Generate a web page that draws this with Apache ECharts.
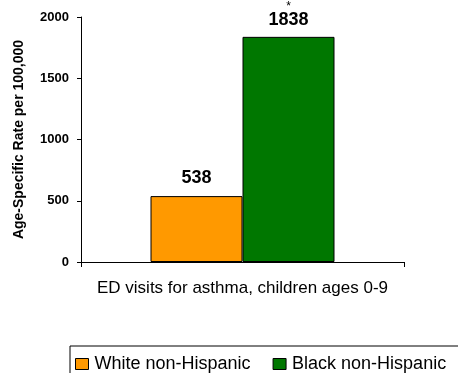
<!DOCTYPE html>
<html>
<head>
<meta charset="utf-8">
<script src="https://cdn.jsdelivr.net/npm/echarts@6/dist/echarts.min.js"></script>
<style>
html,body{margin:0;padding:0;background:#fff;}
#chart{width:458px;height:373px;}
</style>
</head>
<body>
<div id="chart"></div>
<script>
// Emergency department visits for asthma, rates by race
const categories = ['ED visits for asthma, children ages 0-9'];
const whiteValues = [538];
const blackValues = [1838];
const seriesNames = ['White non-Hispanic', 'Black non-Hispanic'];
const yTicks = [0, 500, 1000, 1500, 2000];
const significantMark = '*';

const FONT = 'Liberation Sans, Arial, sans-serif';
const chart = echarts.init(document.getElementById('chart'), null, { renderer: 'canvas' });

chart.setOption({
  animation: false,
  backgroundColor: '#fff',
  textStyle: { fontFamily: FONT },
  grid: { left: 81, right: 54, top: 17, bottom: 111 },
  legend: {
    data: seriesNames,
    left: 70, top: 346,
    width: 420,
    orient: 'horizontal',
    padding: [9, 20, 8, 5],
    borderColor: '#000', borderWidth: 1,
    itemWidth: 13, itemHeight: 11, itemGap: 22,
    icon: 'rect',
    itemStyle: { borderColor: '#000', borderWidth: 1 },
    textStyle: { fontFamily: FONT, fontSize: 18, color: '#000', padding: [0, 0, 0, 1] }
  },
  xAxis: {
    type: 'category',
    data: categories,
    axisLine: { lineStyle: { color: '#000', width: 1 } },
    axisTick: { show: true, length: 5, lineStyle: { color: '#000' } },
    axisLabel: { color: '#000', fontSize: 17, fontFamily: FONT, margin: 18 }
  },
  yAxis: {
    type: 'value',
    min: yTicks[0], max: yTicks[yTicks.length - 1], interval: 500,
    name: 'Age-Specific Rate per 100,000',
    nameLocation: 'middle', nameGap: 55, nameRotate: 90,
    nameTextStyle: { fontSize: 14, fontWeight: 'bold', color: '#000', fontFamily: FONT },
    axisLine: { show: true, lineStyle: { color: '#000', width: 1 } },
    axisTick: { show: true, length: 4, inside: false, lineStyle: { color: '#000' } },
    splitLine: { show: false },
    axisLabel: {
      color: '#000', fontSize: 13, fontWeight: 'bold', fontFamily: FONT, margin: 12,
      formatter: v => String(v)
    }
  },
  series: [
    {
      name: seriesNames[0], type: 'bar', data: whiteValues,
      barWidth: 92, barGap: '0%',
      itemStyle: { color: '#FF9900', borderColor: '#000', borderWidth: 1 },
      label: {
        show: true, position: 'top', distance: 9,
        fontSize: 18, fontWeight: 'bold', color: '#000', fontFamily: FONT
      }
    },
    {
      name: seriesNames[1], type: 'bar', data: blackValues,
      barWidth: 92,
      itemStyle: { color: '#007700', borderColor: '#000', borderWidth: 1 },
      label: {
        show: true, position: 'top', distance: 8,
        formatter: p => '{s|' + significantMark + '}\n{v|' + p.value + '}',
        rich: {
          s: { fontSize: 12, color: '#000', fontFamily: FONT, lineHeight: 9, align: 'center' },
          v: { fontSize: 18, fontWeight: 'bold', color: '#000', fontFamily: FONT, lineHeight: 18, align: 'center' }
        }
      }
    }
  ]
});
</script>
</body>
</html>
